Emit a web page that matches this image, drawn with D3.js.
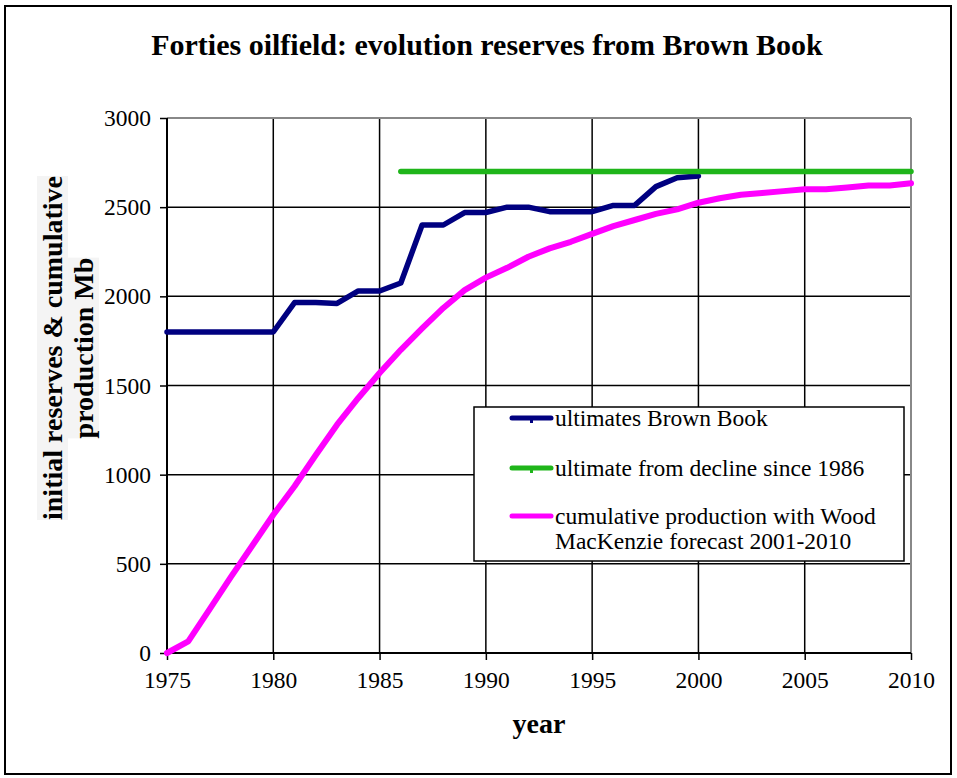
<!DOCTYPE html>
<html><head><meta charset="utf-8">
<script src="https://cdn.jsdelivr.net/npm/d3@7"></script>
<style>body{margin:0;background:#fff;} svg{display:block;}</style>
</head><body>
<script>
const years = d3.range(1975, 2011);
const brownBookYears = d3.range(1975, 2001);
const brownBook = [1800,1800,1800,1800,1800,1800,1965,1965,1960,2030,2030,2075,2400,2400,2470,2470,2500,2500,2475,2475,2475,2510,2510,2615,2665,2675];
const declineYears = d3.range(1986, 2011);
const decline = declineYears.map(() => 2700);
const cumulative = [0,65,245,425,600,775,935,1110,1280,1430,1570,1700,1820,1935,2035,2105,2160,2222,2269,2306,2350,2394,2428,2462,2488,2525,2550,2570,2580,2590,2600,2600,2610,2622,2622,2634];
const xTicks = [1975,1980,1985,1990,1995,2000,2005,2010];
const yTicks = [0,500,1000,1500,2000,2500,3000];
const seriesNames = ["ultimates Brown Book","ultimate from decline since 1986","cumulative production with Wood|MacKenzie forecast 2001-2010"];
const seriesColors = ["#000080","#1fb51a","#ff00ff"];

const W = 957, H = 778;
const svg = d3.select("body").append("svg").attr("width", W).attr("height", H);
const serif = "'Liberation Serif','Times New Roman',serif";

svg.append("rect").attr("x",5).attr("y",6).attr("width",946).attr("height",768)
  .attr("fill","#fff").attr("stroke","#000").attr("stroke-width",2);

const x = d3.scaleLinear().domain([1975,2010]).range([167,911]);
const y = d3.scaleLinear().domain([0,3000]).range([653,118]);

// gridlines
const g = svg.append("g");
g.selectAll(".hg").data(yTicks.filter(d=>d>0 && d<3000)).join("line")
  .attr("x1",x(1975)).attr("x2",x(2010)).attr("y1",d=>y(d)).attr("y2",d=>y(d))
  .attr("stroke","#000").attr("stroke-width",1.5);
g.selectAll(".vg").data(xTicks.filter(d=>d>1975 && d<2010)).join("line")
  .attr("x1",d=>x(d)).attr("x2",d=>x(d)).attr("y1",y(0)).attr("y2",y(3000))
  .attr("stroke","#000").attr("stroke-width",1.5);
g.append("line").attr("x1",x(1975)).attr("x2",x(2010)).attr("y1",y(3000)).attr("y2",y(3000)).attr("stroke","#888").attr("stroke-width",2);
g.append("line").attr("x1",x(2010)).attr("x2",x(2010)).attr("y1",y(3000)).attr("y2",y(0)).attr("stroke","#888").attr("stroke-width",2);

// axes
const yAxis = d3.axisLeft(y).tickValues(yTicks).tickSize(7).tickPadding(9).tickFormat(d3.format("d"));
const xAxis = d3.axisBottom(x).tickValues(xTicks).tickSize(7).tickPadding(11).tickFormat(d3.format("d"));
const ya = svg.append("g").attr("transform",`translate(${x(1975)},0)`).call(yAxis);
const xa = svg.append("g").attr("transform",`translate(0,${y(0)})`).call(xAxis);
[ya,xa].forEach(a=>{
  a.select(".domain").attr("stroke","#000").attr("stroke-width",2);
  a.selectAll(".tick line").attr("stroke","#000").attr("stroke-width",1.5);
  a.selectAll("text").attr("fill","#000").style("font-family",serif).style("font-size","23.5px");
});
ya.select(".domain").attr("d",`M0,${y(3000)}V${y(0)}`);
xa.select(".domain").attr("d",`M${x(1975)},0H${x(2010)}`);

// lines
const line = d3.line().x(d=>x(d[0])).y(d=>y(d[1]));
const plots = svg.append("g");
plots.append("path").datum(brownBookYears.map((yr,i)=>[yr,brownBook[i]]))
  .attr("d",line).attr("fill","none").attr("stroke",seriesColors[0]).attr("stroke-width",5.5).attr("stroke-linejoin","round").attr("stroke-linecap","round");
plots.append("path").datum(declineYears.map((yr,i)=>[yr,decline[i]]))
  .attr("d",line).attr("fill","none").attr("stroke",seriesColors[1]).attr("stroke-width",5.5).attr("stroke-linejoin","round").attr("stroke-linecap","round");
plots.append("path").datum(years.map((yr,i)=>[yr,cumulative[i]]))
  .attr("d",line).attr("fill","none").attr("stroke",seriesColors[2]).attr("stroke-width",6).attr("stroke-linejoin","round").attr("stroke-linecap","round");

// title
svg.append("text").attr("x",487).attr("y",55).attr("text-anchor","middle")
  .style("font-family",serif).style("font-weight","bold").style("font-size","30px")
  .text("Forties oilfield: evolution reserves from Brown Book");

// x label
svg.append("text").attr("x",539).attr("y",733).attr("text-anchor","middle")
  .style("font-family",serif).style("font-weight","bold").style("font-size","28px").text("year");

// y label
const yl = svg.append("g").attr("transform","translate(0,348) rotate(-90)");
const ylLines = ["initial reserves & cumulative","production Mb"];
ylLines.forEach((t,i)=>{
  const tx = yl.append("text").attr("x",0).attr("y",62+i*31).attr("text-anchor","middle")
    .style("font-family",serif).style("font-weight","bold").style("font-size","28px").text(t);
  const bb = tx.node().getBBox();
  yl.insert("rect","text").attr("x",bb.x).attr("y",bb.y).attr("width",bb.width).attr("height",bb.height).attr("fill","#f4f4f4");
});

// legend
const lg = svg.append("g");
lg.append("rect").attr("x",474).attr("y",407).attr("width",430).attr("height",154)
  .attr("fill","#fff").attr("stroke","#000").attr("stroke-width",1.5);
const legY = [418,468,516];
seriesNames.forEach((n,i)=>{
  lg.append("line").attr("x1",512).attr("x2",551).attr("y1",legY[i]).attr("y2",legY[i])
    .attr("stroke",seriesColors[i]).attr("stroke-width",5).attr("stroke-linecap","round");
  if(i<2) lg.append("rect").attr("x",530).attr("y",legY[i]).attr("width",3).attr("height",5).attr("fill",seriesColors[i]);
  n.split("|").forEach((t,j)=>{
    lg.append("text").attr("x",555).attr("y",legY[i]+8+j*25)
      .style("font-family",serif).style("font-size","23.5px").attr("fill","#000").text(t);
  });
});
</script>
</body></html>
